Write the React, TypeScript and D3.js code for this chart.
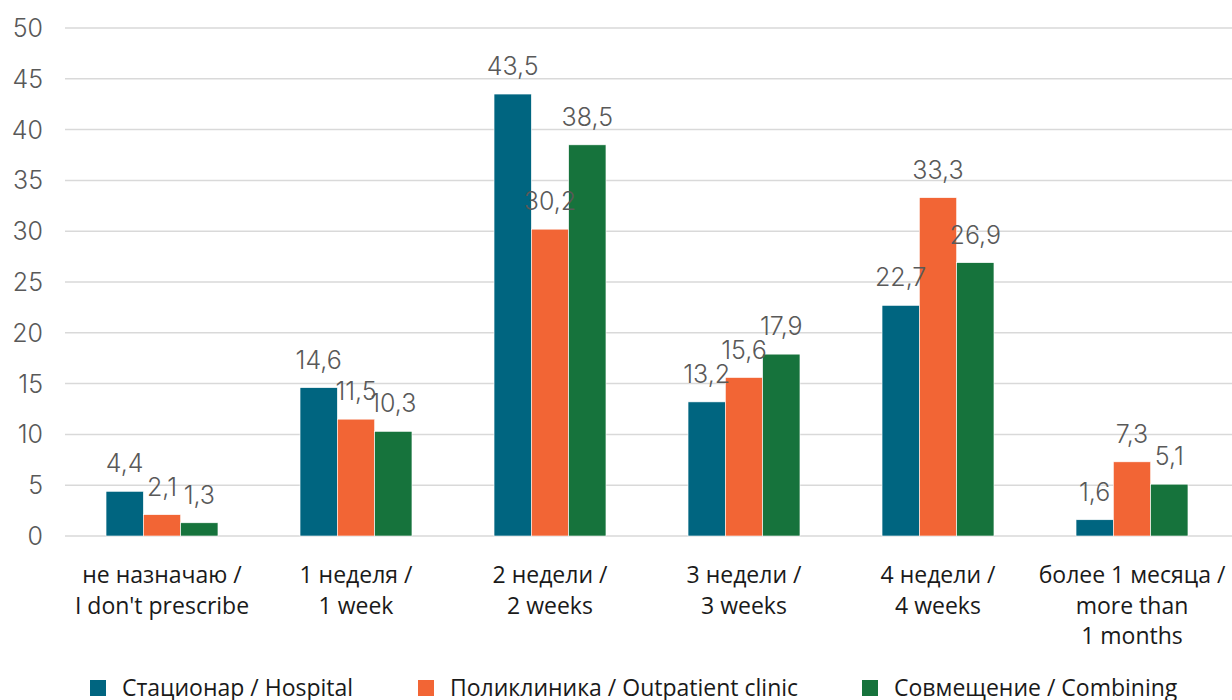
import * as d3 from 'd3';

const categories = [
  ['не назначаю /', "I don't prescribe"],
  ['1 неделя /', '1 week'],
  ['2 недели /', '2 weeks'],
  ['3 недели /', '3 weeks'],
  ['4 недели /', '4 weeks'],
  ['более 1 месяца /', 'more than', '1 months'],
];

const seriesNames = ['Стационар / Hospital', 'Поликлиника / Outpatient clinic', 'Совмещение / Combining'];
const hospital = [4.4, 14.6, 43.5, 13.2, 22.7, 1.6];
const outpatient = [2.1, 11.5, 30.2, 15.6, 33.3, 7.3];
const combining = [1.3, 10.3, 38.5, 17.9, 26.9, 5.1];
const yTicks = [0, 5, 10, 15, 20, 25, 30, 35, 40, 45, 50];

const colors = ['#006580', '#f26535', '#16733c'];
const series = [hospital, outpatient, combining];

const width = 1232;
const height = 700;
const margin = { top: 28, right: 3, bottom: 164, left: 65 };

export default function App() {
  const x = d3
    .scaleBand<number>()
    .domain(d3.range(categories.length))
    .range([margin.left, width - margin.right])
    .paddingInner(0.423)
    .paddingOuter(0.2115);

  const xs = d3.scaleBand<number>().domain([0, 1, 2]).range([0, x.bandwidth()]);

  const y = d3
    .scaleLinear()
    .domain([0, 50])
    .range([height - margin.bottom, margin.top]);

  const fmt = (v: number) => v.toFixed(1).replace('.', ',');
  const numFont = 'Inter, Roboto, sans-serif';
  const txtFont = '"Open Sans", sans-serif';

  const legendX = [90, 418, 862];

  return (
    <svg
      width={width}
      height={height}
      style={{ position: 'absolute', left: 0, top: 0, background: '#fff' }}
    >
      {yTicks.map((t) => (
        <g key={t}>
          <line x1={margin.left} x2={width} y1={y(t)} y2={y(t)} stroke="#d9d9d9" strokeWidth={1.5} />
          <text x={43} y={y(t)} dy="0.36em" textAnchor="end" fontFamily={numFont} fontWeight={300} fontSize={25} fill="#595959">
            {t}
          </text>
        </g>
      ))}

      {series.map((vals, si) =>
        vals.map((v, ci) => {
          const bx = (x(ci) as number) + (xs(si) as number);
          return (
            <rect
              key={`${si}-${ci}`}
              x={bx}
              y={y(v)}
              width={xs.bandwidth()}
              height={y(0) - y(v)}
              fill={colors[si]}
              stroke="#ffffff"
              strokeWidth={0.6}
            />
          );
        })
      )}

      {series.map((vals, si) =>
        vals.map((v, ci) => {
          const cx = (x(ci) as number) + (xs(si) as number) + xs.bandwidth() / 2;
          return (
            <text
              key={`l-${si}-${ci}`}
              x={cx}
              y={y(v) - 19}
              textAnchor="middle"
              fontFamily={numFont}
              fontWeight={300}
              fontSize={25}
              fill="#595959"
            >
              {fmt(v)}
            </text>
          );
        })
      )}

      {categories.map((lines, ci) => (
        <text
          key={`c-${ci}`}
          x={(x(ci) as number) + x.bandwidth() / 2}
          y={583}
          textAnchor="middle"
          fontFamily={txtFont}
          fontSize={23}
          fill="#1a1a1a"
        >
          {lines.map((ln, li) => (
            <tspan key={li} x={(x(ci) as number) + x.bandwidth() / 2} dy={li === 0 ? 0 : 30.5}>
              {ln}
            </tspan>
          ))}
        </text>
      ))}

      {seriesNames.map((n, si) => (
        <g key={`lg-${si}`} transform={`translate(${legendX[si]},688)`}>
          <rect x={0} y={-8} width={16} height={16} fill={colors[si]} />
          <text x={32} y={0} dy="0.36em" fontFamily={txtFont} fontSize={23} fill="#1a1a1a">
            {n}
          </text>
        </g>
      ))}
    </svg>
  );
}
